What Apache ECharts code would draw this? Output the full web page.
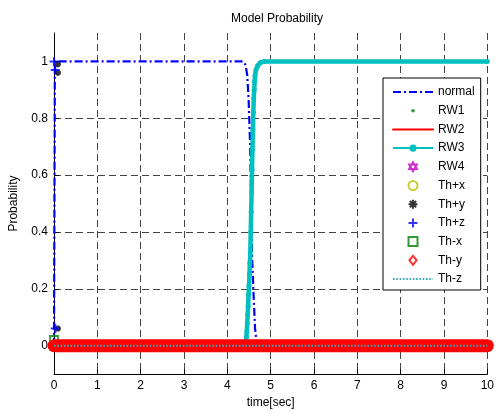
<!DOCTYPE html>
<html><head><meta charset="utf-8">
<script src="https://cdn.jsdelivr.net/npm/echarts@6/dist/echarts.min.js"></script>
<style>html,body{margin:0;padding:0;background:#fff}#c{width:497px;height:414px}</style>
</head><body><div id="c"></div>
<script>
// ---- data (time [sec], probability) ----
const yTicks = [0, 0.2, 0.4, 0.6, 0.8, 1];
const normal = [[0,0],[0.02,1],[4.37,1],[4.41,0.99],[4.44,0.97],[4.46,0.95],[4.49,0.87],[4.53,0.69],[4.55,0.5],[4.57,0.32],[4.60,0.2],[4.64,0.06],[4.67,0.02],[4.70,0],[10,0]];
const rw1 = [[0,0],[10,0]];
const rw2 = [[0,0],[10,0]];
const rw3 = [[0,0],[4.42,0],[4.43,0.01],[4.44,0.03],[4.45,0.05],[4.46,0.08],[4.47,0.11],[4.48,0.14],[4.49,0.18],[4.50,0.21],[4.51,0.25],[4.52,0.29],[4.53,0.33],[4.54,0.40],[4.55,0.47],[4.56,0.54],[4.57,0.62],[4.58,0.69],[4.59,0.76],[4.60,0.82],[4.61,0.87],[4.62,0.90],[4.63,0.93],[4.64,0.95],[4.66,0.97],[4.70,0.985],[4.76,0.995],[4.85,1],[10,1]];
const rw4 = [[0,0],[10,0]];
const thPx = [[0,0],[10,0]];
const thPy = [[0.09,0.99],[0.09,0.96],[0.09,0.06]];
const thPz = [[0,1],[0.03,0.97],[0.03,0.06]];
const thMx = [[0,0.02],[10,0]];
const thMy = [[0,0],[10,0]];
const thMz = [[0,0],[10,0]];

const FONT = 'Liberation Sans';
const HEXAGRAM = 'path://M10,0L18.66,15L1.34,15Z M10,20L1.34,5L18.66,5Z';
const PLUS = 'path://M10,0L10,20M0,10L20,10';
const STAR = 'path://M10,0L10,20M0,10L20,10M3,3L17,17M17,3L3,17';
const SQUARE = 'path://M1,1L19,1L19,19L1,19Z';
const DIAMOND = 'path://M10,0L18,10L10,20L2,10Z';
const SMALLDOT = 'path://M0,0M20,20M10,6A4,4 0 1,1 10,14A4,4 0 1,1 10,6Z';
const CLEAR = 'rgba(0,0,0,0)';

const chart = echarts.init(document.getElementById('c'), null, {renderer:'canvas'});
chart.setOption({
  animation: false,
  backgroundColor: '#fff',
  title: {
    text: 'Model Probability', left: 272, top: 8, textAlign: 'center',
    textStyle: {fontFamily: FONT, fontSize: 12, fontWeight: 'normal', color: '#000'}
  },
  grid: {left: 54, right: 6, top: 33, bottom: 36},
  legend: {
    orient: 'vertical', left: 383, top: 78,
    backgroundColor: '#fff', borderColor: '#000', borderWidth: 1,
    padding: [8, 6, 5, 9],
    itemWidth: 40, itemHeight: 9, itemGap: 6.7,
    textStyle: {fontFamily: FONT, fontSize: 12, color: '#000'},
    data: [
      {name: 'normal'},
      {name: 'RW1', icon: SMALLDOT},
      {name: 'RW2', lineStyle: {width: 2}},
      {name: 'RW3'},
      {name: 'RW4'},
      {name: 'Th+x'},
      {name: 'Th+y'},
      {name: 'Th+z'},
      {name: 'Th-x'},
      {name: 'Th-y'},
      {name: 'Th-z'}
    ]
  },
  xAxis: {
    type: 'value', min: 0, max: 10, interval: 1,
    name: 'time[sec]', nameLocation: 'middle', nameGap: 17,
    nameTextStyle: {fontFamily: FONT, fontSize: 12, color: '#000'},
    axisLine: {show: true, onZero: false, lineStyle: {color: '#000', width: 1}},
    axisTick: {show: true, inside: true, length: 5, lineStyle: {color: '#000'}},
    axisLabel: {fontFamily: FONT, fontSize: 12, color: '#000', margin: 6},
    splitLine: {show: true, lineStyle: {color: '#444', width: 1, type: [7, 4]}}
  },
  yAxis: {
    type: 'value', min: -0.1, max: 1.1,
    name: 'Probability', nameLocation: 'middle', nameGap: 34, nameRotate: 90,
    nameTextStyle: {fontFamily: FONT, fontSize: 12, color: '#000'},
    axisLine: {show: true, onZero: false, lineStyle: {color: '#000', width: 1}},
    axisTick: {show: true, inside: true, length: 5, lineStyle: {color: '#000'}, customValues: yTicks},
    axisLabel: {fontFamily: FONT, fontSize: 12, color: '#000', margin: 6, customValues: yTicks},
    splitLine: {show: true, showMinLine: false, showMaxLine: false,
      lineStyle: {color: '#444', width: 1, type: [7, 4]}}
  },
  series: [
    {name: 'normal', type: 'line', data: normal, symbol: 'none', z: 2,
      lineStyle: {color: '#0000ff', width: 2.2, type: [8, 3, 2, 3]}, itemStyle: {color: CLEAR, borderColor: CLEAR}},
    {name: 'RW1', type: 'scatter', data: rw1, symbol: 'circle', symbolSize: 4, z: 2,
      itemStyle: {color: '#008000'}},
    {name: 'RW2', type: 'line', data: rw2, symbol: 'none', z: 3, clip: false,
      lineStyle: {color: '#ff0000', width: 13, cap: 'round'}, itemStyle: {color: CLEAR, borderColor: CLEAR}},
    {name: 'RW3', type: 'line', data: rw3, symbol: 'circle', symbolSize: 5, showAllSymbol: true, z: 2,
      lineStyle: {color: '#00bfbf', width: 4.5}, itemStyle: {color: '#00bfbf'}},
    {name: 'RW4', type: 'scatter', data: rw4, symbol: HEXAGRAM, symbolSize: 9, z: 2,
      itemStyle: {color: CLEAR, borderColor: '#bf00bf', borderWidth: 1.5}},
    {name: 'Th+x', type: 'scatter', data: thPx, symbol: 'circle', symbolSize: 9, z: 2,
      itemStyle: {color: CLEAR, borderColor: '#bfbf00', borderWidth: 1.8}},
    {name: 'Th+y', type: 'scatter', data: thPy, symbol: STAR, symbolSize: 6, z: 2,
      itemStyle: {color: CLEAR, borderColor: '#000', borderWidth: 2}},
    {name: 'Th+z', type: 'scatter', data: thPz, symbol: PLUS, symbolSize: 9, z: 2,
      itemStyle: {color: CLEAR, borderColor: '#0000ff', borderWidth: 2}},
    {name: 'Th-x', type: 'scatter', data: thMx, symbol: SQUARE, symbolSize: 8, z: 2,
      itemStyle: {color: CLEAR, borderColor: '#008000', borderWidth: 1.8}},
    {name: 'Th-y', type: 'scatter', data: thMy, symbol: DIAMOND, symbolSize: 10, z: 2,
      itemStyle: {color: CLEAR, borderColor: '#ff0000', borderWidth: 1.8}},
    {name: 'Th-z', type: 'line', data: thMz, symbol: 'none', z: 4,
      lineStyle: {color: '#3aa8b0', width: 2, type: [1.6, 1.7]}, itemStyle: {color: CLEAR, borderColor: CLEAR}}
  ]
});
</script>
</body></html>
